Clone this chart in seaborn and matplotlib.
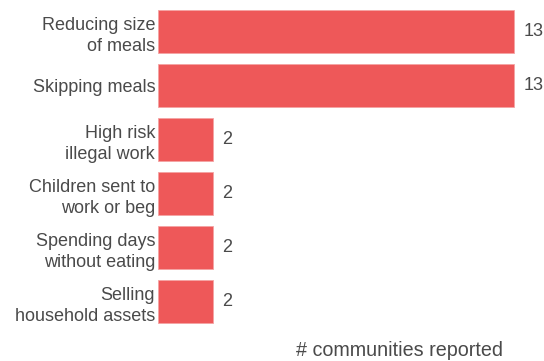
import pandas as pd
import matplotlib.pyplot as plt
import seaborn as sns

strategies = ["Reducing size\nof meals", "Skipping meals", "High risk\nillegal work",
              "Children sent to\nwork or beg", "Spending days\nwithout eating",
              "Selling\nhousehold assets"]
communities = [13, 13, 2, 2, 2, 2]

df = pd.DataFrame({'strategy': strategies, 'count': communities})

sns.set_theme(style='white')
plt.rcParams['font.family'] = ['Liberation Sans', 'DejaVu Sans']
text_color = '#4a4a4a'

fig = plt.figure(figsize=(5.44, 3.61), dpi=100)
ax = fig.add_axes([0.2904, 0.0897, 0.7052, 0.8975])

sns.barplot(data=df, y='strategy', x='count', orient='h', color='#EE5859',
            saturation=1, width=0.8, edgecolor='#f4a3a3', linewidth=0.6, ax=ax)

for c in ax.containers:
    ax.bar_label(c, padding=6.5, fontsize=13, color=text_color)

ax.set_xlim(0, 14)
ax.set_ylim(5.5, -0.5)
sns.despine(left=True, bottom=True)
ax.set_xticks([])
ax.set_ylabel('')
ax.tick_params(axis='y', length=0, pad=2, labelsize=13, labelcolor=text_color)
for lbl in ax.get_yticklabels():
    lbl.set_multialignment('right')
    lbl.set_linespacing(1.35)

ax.set_xlabel('# communities reported', fontsize=14.2, color=text_color, ha='right', va='center')
ax.xaxis.set_label_coords(0.899, -0.069)

fig.savefig('out.png', dpi=100)
